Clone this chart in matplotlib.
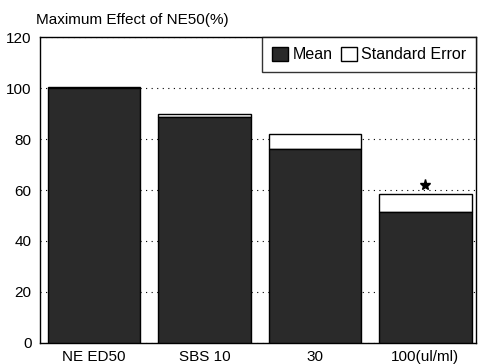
import matplotlib.pyplot as plt
from matplotlib.patches import Patch

plt.rcParams['font.family'] = ['Liberation Sans', 'DejaVu Sans']

groups = ["NE ED50", "SBS 10", "30", "100(ul/ml)"]
mean = [100.0, 88.5, 76.0, 51.5]
std_err = [0.5, 1.5, 6.0, 7.0]
star_at = 3          # significant group
star_y = 61.8
yticks = [0, 20, 40, 60, 80, 100, 120]

fig = plt.figure(figsize=(4.81, 3.64), dpi=100)
ax = fig.add_axes([0.083, 0.058, 0.907, 0.84])

x = list(range(len(groups)))
w = 0.84
dark = '#2a2a2a'

# error part first (white with outline), then the mean bar on top
ax.bar(x, std_err, width=w, bottom=mean, color='white', edgecolor='black',
       linewidth=1.0, zorder=3)
ax.bar(x, mean, width=w, color=dark, edgecolor='black', linewidth=1.0, zorder=3)

ax.plot(x[star_at], star_y, marker='*', color='black', markersize=8, zorder=4)

ax.set_ylim(0, 120)
ax.set_xlim(-0.49, 3.46)
ax.set_yticks(yticks)
ax.set_xticks(x)
ax.set_xticklabels(groups, fontsize=11.5)
ax.tick_params(axis='both', length=0, labelsize=11, colors='black')
ax.tick_params(axis='y', pad=6)
ax.tick_params(axis='x', pad=5)

ax.yaxis.grid(True, linestyle=(0, (1, 4)), color='black', linewidth=0.8, zorder=0)
ax.set_axisbelow(True)

for s in ax.spines.values():
    s.set_linewidth(1.0)

fig.text(0.075, 0.945, "Maximum Effect of NE50(%)", fontsize=11, ha='left', va='center')

handles = [Patch(facecolor=dark, edgecolor='black', label='Mean'),
           Patch(facecolor='white', edgecolor='black', label='Standard Error')]
leg = ax.legend(handles=handles, loc='upper right', ncol=2, frameon=True,
                fancybox=False, fontsize=11.5, handlelength=1.0, handleheight=1.0,
                handletextpad=0.3, columnspacing=0.5, borderaxespad=0.0,
                borderpad=0.6)
leg.get_frame().set_edgecolor('black')
leg.get_frame().set_linewidth(1.0)

fig.savefig("out.png", dpi=100)
